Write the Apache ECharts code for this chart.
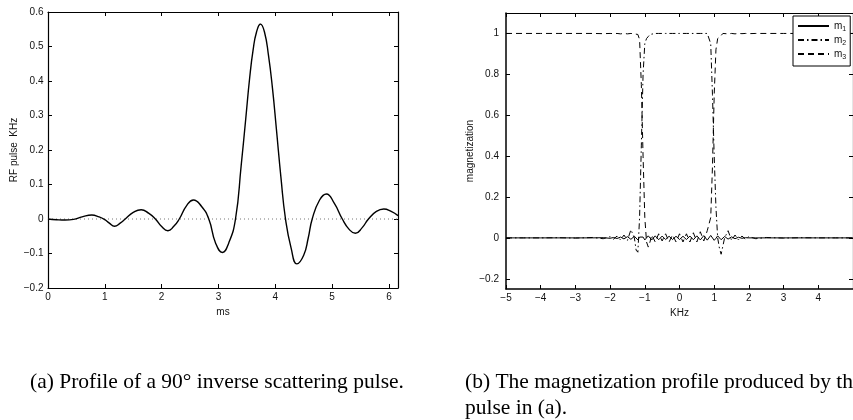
<!DOCTYPE html>
<html><head><meta charset="utf-8">
<script src="https://cdn.jsdelivr.net/npm/echarts@6/dist/echarts.min.js"></script>
<style>html,body{margin:0;padding:0;background:#fff}#c{width:853px;height:420px}</style>
</head><body><div id="c"></div>
<script>
// ---- data ----
const pulseTime = [0,0.15,0.3,0.45,0.6,0.77,0.9,1.0,1.08,1.17,1.27,1.36,1.5,1.64,1.77,1.89,2.0,2.11,2.21,2.31,2.44,2.56,2.7,2.83,2.95,3.07,3.18,3.3,3.4,3.48,3.55,3.61,3.67,3.74,3.81,3.88,3.95,4.02,4.1,4.18,4.28,4.38,4.5,4.58,4.65,4.78,4.9,5.04,5.18,5.3,5.41,5.53,5.64,5.78,5.91,6.04,6.16];
const pulseValue = [0,-0.002,-0.003,-0.001,0.006,0.0115,0.006,-0.002,-0.012,-0.021,-0.012,0,0.019,0.027,0.017,0,-0.022,-0.034,-0.022,0,0.039,0.055,0.037,0,-0.07,-0.097,-0.07,0,0.155,0.29,0.41,0.49,0.542,0.565,0.542,0.475,0.38,0.26,0.12,0,-0.085,-0.13,-0.105,-0.055,0,0.055,0.0725,0.045,0,-0.03,-0.0415,-0.025,0,0.022,0.029,0.022,0.0097];

const freq = [-5,-4.5,-4,-3.5,-3,-2.5,-2.2,-2,-1.9,-1.8,-1.7,-1.6,-1.5,-1.4,-1.3,-1.25,-1.2,-1.15,-1.1,-1.05,-1,-0.95,-0.9,-0.85,-0.8,-0.7,-0.6,-0.5,-0.4,-0.3,-0.2,-0.1,0,0.1,0.2,0.3,0.4,0.5,0.6,0.7,0.8,0.85,0.9,0.95,1,1.05,1.1,1.15,1.2,1.25,1.3,1.4,1.5,1.6,1.7,1.8,1.9,2,2.2,2.5,3,3.5,4,4.5,5];
const m1 = [0,0,0,0,0,0,0.001,-0.002,0.002,-0.003,0.004,-0.005,0.006,-0.007,0.008,0.002,-0.01,0.004,0.012,0.004,-0.01,0,0.01,0.002,-0.01,0.01,-0.009,0.009,-0.008,0.008,-0.008,0.008,-0.008,0.008,-0.008,0.009,-0.009,0.01,-0.01,0.011,-0.011,-0.002,0.012,0.004,-0.012,-0.002,0.01,0.003,-0.009,-0.002,0.007,-0.006,0.005,-0.004,0.003,-0.002,0.001,0,0,0,0,0,0,0,0];
const m2 = [0,0,0,0.001,-0.001,0.002,-0.004,0.006,-0.006,0.009,-0.01,0.014,-0.012,0.04,0,-0.06,-0.07,0.1,0.45,0.8,0.95,0.975,0.985,0.995,1,1,1,1,1,1,1,1,1,1,1,1,1,1,1,1,1,0.995,0.95,0.7,0.4,0.15,0,-0.05,-0.08,-0.04,0,0.035,-0.012,0.014,-0.01,0.009,-0.006,0.006,-0.004,0.002,-0.001,0.001,0,0,0];
const m3 = [1,1,1,1,1,1,0.999,1,0.999,1,0.998,1,0.998,1,0.998,1,0.995,0.97,0.75,0.4,0.1,-0.02,-0.045,-0.02,0.015,-0.02,0.02,-0.015,0.02,-0.02,0.015,-0.02,0.02,-0.02,0.02,-0.02,0.025,-0.02,0.03,-0.015,0.035,0.04,0.1,0.35,0.7,0.92,0.975,0.97,0.99,1,1,0.998,1,0.998,1,0.999,1,0.999,1,1,1,1,1,1,1];

const pulseXTicks = [0,1,2,3,4,5,6];
const pulseYTicks = [-0.2,-0.1,0,0.1,0.2,0.3,0.4,0.5,0.6];
const freqTicks = [-5,-4,-3,-2,-1,0,1,2,3,4,5];
const freqLabels = [-5,-4,-3,-2,-1,0,1,2,3,4];
const magTicks = [-0.2,0,0.2,0.4,0.6,0.8,1];
const seriesNames = ['m1','m2','m3'];
const captionA = '(a) Profile of a 90\u00B0 inverse scattering pulse.';
const captionB = '(b) The magnetization profile produced by the\npulse in (a).';

// ---- chart ----
const FONT = 'Liberation Sans, Arial, Helvetica, sans-serif';
const SERIF = 'Liberation Serif, Times New Roman, serif';
const fmt = v => String(+v.toFixed(2)).replace('-', '\u2212');
const txt = {fontFamily: FONT, fontSize: 10, color: '#111'};

function axis(o) {
  const a = {
    gridIndex: o.grid, type: 'value', min: o.min, max: o.max, position: o.pos,
    axisLine: {show: true, onZero: false, lineStyle: {color: '#000', width: o.lw}},
    axisTick: {show: true, inside: true, length: 4, customValues: o.ticks, lineStyle: {color: '#000', width: 1}},
    axisLabel: o.labels ? Object.assign({customValues: o.labels, margin: o.margin, formatter: fmt}, txt) : {show: false},
    splitLine: {show: false}
  };
  if (o.name) {
    a.name = o.name; a.nameLocation = 'middle'; a.nameGap = o.nameGap;
    a.nameTextStyle = Object.assign({}, txt);
  }
  return a;
}

const chart = echarts.init(document.getElementById('c'), null, {renderer: 'canvas'});
chart.setOption({
  animation: false,
  backgroundColor: '#fff',
  title: [
    {text: captionA, left: 30, top: 369, padding: 0,
     textStyle: {fontFamily: SERIF, fontSize: 21.5, fontWeight: 'normal', color: '#000', lineHeight: 26}},
    {text: captionB, left: 465, top: 369, padding: 0,
     textStyle: {fontFamily: SERIF, fontSize: 21.5, fontWeight: 'normal', color: '#000', lineHeight: 26}}
  ],
  grid: [
    {left: 48, top: 12, width: 350, height: 276, containLabel: false},
    {left: 506, top: 13, width: 351, height: 276, containLabel: false}
  ],
  xAxis: [
    axis({grid: 0, min: 0, max: 6.16, pos: 'bottom', ticks: pulseXTicks, labels: pulseXTicks, margin: 4, lw: 1.2, name: 'ms', nameGap: 16}),
    axis({grid: 0, min: 0, max: 6.16, pos: 'top', ticks: pulseXTicks, lw: 1.2}),
    axis({grid: 1, min: -5, max: 5, pos: 'bottom', ticks: freqTicks, labels: freqLabels, margin: 4, lw: 1.5, name: 'KHz', nameGap: 16}),
    axis({grid: 1, min: -5, max: 5, pos: 'top', ticks: freqTicks, lw: 1.2})
  ],
  yAxis: [
    axis({grid: 0, min: -0.2, max: 0.6, pos: 'left', ticks: pulseYTicks, labels: pulseYTicks, margin: 4.5, lw: 1.2, name: 'RF pulse  KHz', nameGap: 29}),
    axis({grid: 0, min: -0.2, max: 0.6, pos: 'right', ticks: pulseYTicks, lw: 1.2}),
    axis({grid: 1, min: -0.25, max: 1.1, pos: 'left', ticks: magTicks, labels: magTicks, margin: 7, lw: 1.5, name: 'magnetization', nameGap: 29}),
    axis({grid: 1, min: -0.25, max: 1.1, pos: 'right', ticks: magTicks, lw: 1.2})
  ],
  legend: {
    data: seriesNames, orient: 'vertical', left: 793, top: 16,
    padding: [5, 4, 5, 4], itemGap: 2, itemWidth: 31, itemHeight: 10,
    backgroundColor: '#fff', borderColor: '#000', borderWidth: 1, borderRadius: 0,
    selectedMode: false,
    itemStyle: {opacity: 0},
    formatter: n => '{m|m}{s|' + n.slice(1) + '}',
    textStyle: {
      fontFamily: FONT, color: '#111',
      rich: {
        m: {fontFamily: FONT, fontSize: 10, color: '#111', lineHeight: 14},
        s: {fontFamily: FONT, fontSize: 7, color: '#111', lineHeight: 8, verticalAlign: 'bottom'}
      }
    }
  },
  series: [
    {type: 'line', xAxisIndex: 0, yAxisIndex: 0, silent: true, symbol: 'none',
     data: [[0, 0], [6.16, 0]], lineStyle: {color: '#777', width: 1, type: [1, 3]}, z: 1},
    {type: 'line', name: 'pulse', xAxisIndex: 0, yAxisIndex: 0, symbol: 'none', smooth: 0.5,
     data: pulseTime.map((t, i) => [t, pulseValue[i]]), lineStyle: {color: '#000', width: 1.4}, z: 2},
    {type: 'line', name: 'm1', xAxisIndex: 2, yAxisIndex: 2, symbol: 'none', color: '#000',
     data: freq.map((f, i) => [f, m1[i]]), lineStyle: {color: '#000', width: 1}},
    {type: 'line', name: 'm2', xAxisIndex: 2, yAxisIndex: 2, symbol: 'none', color: '#000',
     data: freq.map((f, i) => [f, m2[i]]), lineStyle: {color: '#000', width: 1, type: [6, 3, 1.5, 3]}},
    {type: 'line', name: 'm3', xAxisIndex: 2, yAxisIndex: 2, symbol: 'none', color: '#000',
     data: freq.map((f, i) => [f, m3[i]]), lineStyle: {color: '#000', width: 1, type: [6, 4]}}
  ]
});
</script>
</body></html>
